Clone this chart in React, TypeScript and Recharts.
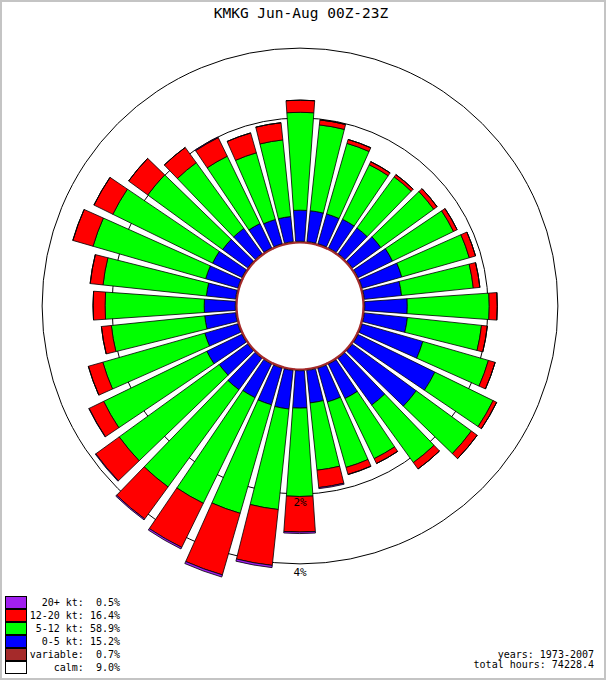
import React from 'react';
import {
  RadialBarChart,
  RadialBar,
  PolarAngleAxis,
  PolarRadiusAxis,
  PolarGrid,
  Sector,
} from 'recharts';

// wind directions, 10 degree bins, clockwise from north
const directions = [
  0, 10, 20, 30, 40, 50, 60, 70, 80, 90, 100, 110, 120, 130, 140, 150, 160, 170,
  180, 190, 200, 210, 220, 230, 240, 250, 260, 270, 280, 290, 300, 310, 320, 330, 340, 350,
];

// percent of all hours, per direction
const speed0to5 = [
  0.32, 0.32, 0.32, 0.33, 0.33, 0.37, 0.41, 0.45, 0.4, 0.47, 0.48, 0.78, 1.18, 1.06, 0.69, 0.41, 0.37, 0.34,
  0.4, 0.42, 0.41, 0.4, 0.42, 0.37, 0.42, 0.36, 0.32, 0.32, 0.3, 0.35, 0.34, 0.32, 0.32, 0.27, 0.25, 0.25,
];
const speed5to12 = [
  1.82, 1.54, 1.25, 0.99, 1.04, 1.11, 1.19, 1.27, 1.28, 1.56, 1.39, 1.42, 1.52, 1.56, 1.44, 1.17, 1.17, 1.14,
  1.66, 2.0, 2.31, 2.43, 2.53, 2.56, 2.37, 2.07, 1.72, 1.85, 1.95, 2.36, 2.18, 1.69, 1.42, 1.24, 1.11, 1.27,
];
const speed12to20 = [
  0.31, 0.12, 0.09, 0.07, 0.06, 0.09, 0.09, 0.15, 0.15, 0.2, 0.14, 0.18, 0.11, 0.2, 0.2, 0.12, 0.16, 0.39,
  0.95, 1.68, 2.04, 1.54, 1.24, 0.88, 0.47, 0.41, 0.25, 0.31, 0.34, 0.61, 0.59, 0.61, 0.45, 0.47, 0.45, 0.39,
];
const speed20plus = [
  0, 0, 0, 0, 0, 0, 0, 0, 0, 0, 0, 0, 0, 0, 0, 0, 0.005, 0.025,
  0.045, 0.075, 0.08, 0.06, 0.04, 0.02, 0.01, 0, 0, 0, 0, 0, 0, 0, 0, 0.015, 0, 0,
];

const calmPct = 9.0;
const variablePct = 0.7;
const ringPct = [2, 4];

const legendRows = [
  { label: '20+ kt:', value: '0.5%', color: '#a020f0' },
  { label: '12-20 kt:', value: '16.4%', color: '#ff0000' },
  { label: '5-12 kt:', value: '58.9%', color: '#00ff00' },
  { label: '0-5 kt:', value: '15.2%', color: '#0000ff' },
  { label: 'variable:', value: '0.7%', color: '#a52a2a' },
  { label: 'calm:', value: '9.0%', color: '#ffffff' },
];

const title = 'KMKG Jun-Aug 00Z-23Z';
const years = 'years: 1973-2007';
const totalHours = 'total hours: 74228.4';

// calm and variable hours are spread evenly over the directions, forming the hub
const calmShare = calmPct / directions.length;
const variableShare = variablePct / directions.length;
const hub = calmShare + variableShare;
const ringTicks = ringPct.map((p) => p + hub);

const data = directions.map((dir, i) => ({
  dir: String(dir),
  calm: calmShare,
  variable: variableShare,
  s0: speed0to5[i],
  s5: speed5to12[i],
  s12: speed12to20[i],
  s20: speed20plus[i],
}));

const FONT = '"DejaVu Sans Mono", monospace';

// the hub pieces fill the whole 10 degree band so they read as one ring
const FullBand = (props: any) => {
  const { cx, cy, innerRadius, outerRadius, startAngle, endAngle, fill } = props;
  const mid = (startAngle + endAngle) / 2;
  const half = 180 / directions.length + 0.3;
  return (
    <Sector
      cx={cx}
      cy={cy}
      innerRadius={innerRadius}
      outerRadius={outerRadius}
      startAngle={mid - half}
      endAngle={mid + half}
      fill={fill}
      stroke="none"
    />
  );
};

const RingLabel = (props: any) => {
  const { x, y, payload } = props;
  return (
    <text x={x} y={y + 12} textAnchor="middle" fontSize={11} fontFamily={FONT} fill="#000">
      {`${Math.round(payload.value - hub)}%`}
    </text>
  );
};

export default function App() {
  return (
    <div style={{ position: 'absolute', left: 0, top: 0, width: 606, height: 680, background: '#fff' }}>
      <RadialBarChart
        width={606}
        height={680}
        data={data}
        layout="centric"
        cx={300}
        cy={306}
        innerRadius={0}
        outerRadius={292.7}
        startAngle={85}
        endAngle={-275}
        barCategoryGap="9%"
        margin={{ top: 0, right: 0, bottom: 0, left: 0 }}
      >
        <PolarAngleAxis type="category" dataKey="dir" tick={false} tickLine={false} axisLine={false} />
        <RadialBar dataKey="calm" stackId="w" fill="#ffffff" shape={FullBand} isAnimationActive={false} />
        <RadialBar dataKey="variable" stackId="w" fill="#a52a2a" shape={FullBand} isAnimationActive={false} />
        <RadialBar dataKey="s0" stackId="w" fill="#0000ff" stroke="#000" strokeWidth={0.8} isAnimationActive={false} />
        <RadialBar dataKey="s5" stackId="w" fill="#00ff00" stroke="#000" strokeWidth={0.8} isAnimationActive={false} />
        <RadialBar dataKey="s12" stackId="w" fill="#ff0000" stroke="#000" strokeWidth={0.8} isAnimationActive={false} />
        <RadialBar dataKey="s20" stackId="w" fill="#a020f0" stroke="#000" strokeWidth={0.8} isAnimationActive={false} />
        <PolarGrid gridType="circle" radialLines={false} stroke="#000" strokeWidth={1} fill="none" />
        <PolarRadiusAxis
          type="number"
          scale="sqrt"
          domain={[0, 5.5]}
          allowDataOverflow
          ticks={ringTicks}
          angle={-90}
          tick={RingLabel}
          tickLine={false}
          axisLine={false}
        />
      </RadialBarChart>

      <svg width={606} height={680} style={{ position: 'absolute', left: 0, top: 0, pointerEvents: 'none' }}>
        <rect x={1} y={1} width={604} height={678} fill="none" stroke="#c4c4c4" strokeWidth={2} />
        <text x={301} y={18} textAnchor="middle" fontSize={14.5} fontFamily={FONT} fill="#000">
          {title}
        </text>
        {legendRows.map((row, i) => (
          <g key={row.label}>
            <rect x={5.5} y={596.5 + i * 13} width={21} height={12} fill={row.color} stroke="#000" strokeWidth={1} />
            <text
              x={120}
              y={606 + i * 13}
              textAnchor="end"
              fontSize={10}
              fontFamily={FONT}
              fill="#000"
              style={{ whiteSpace: 'pre' }}
            >
              {`${row.label} ${row.value.padStart(5, ' ')}`}
            </text>
          </g>
        ))}
        <text x={594} y={658} textAnchor="end" fontSize={10} fontFamily={FONT} fill="#000">
          {years}
        </text>
        <text x={594} y={668} textAnchor="end" fontSize={10} fontFamily={FONT} fill="#000">
          {totalHours}
        </text>
      </svg>
    </div>
  );
}
